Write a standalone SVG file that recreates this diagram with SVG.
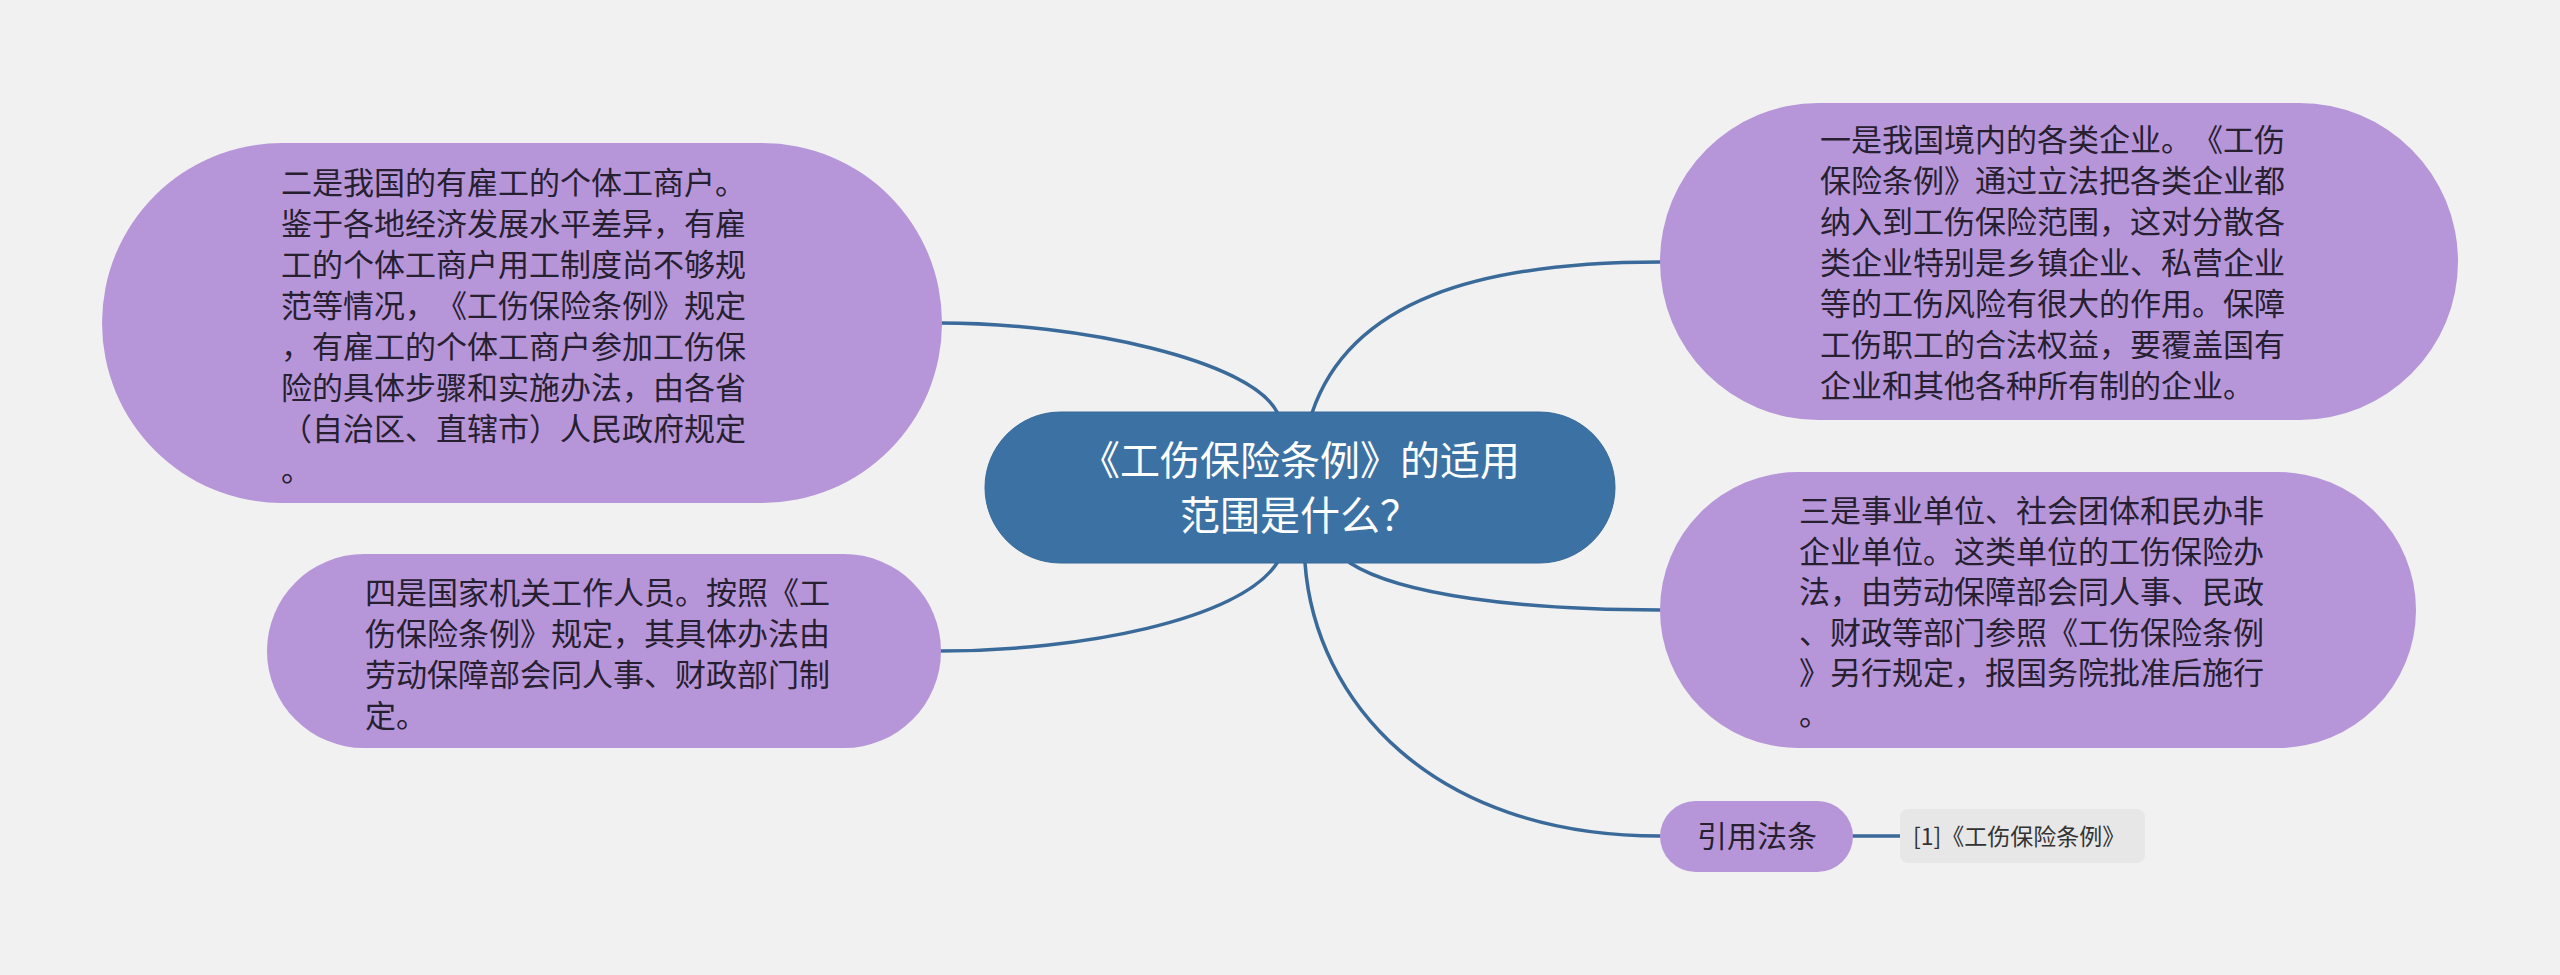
<svg xmlns="http://www.w3.org/2000/svg" width="2560" height="975" viewBox="0 0 2560 975">
<style>
text{font-feature-settings:"chws" 0,"halt" 0,"palt" 0;text-spacing-trim:space-all;font-kerning:none}
.bg{fill:#f1f1f1}
.pill{fill:#b696d8}
.root{fill:#3c72a3;stroke:#36699a;stroke-width:1}
.t{font-family:"Noto Sans CJK SC","Noto Sans",sans-serif;font-size:31px;fill:#262030}
.rt{font-family:"Noto Sans CJK SC","Noto Sans",sans-serif;font-size:40px;fill:#ffffff;text-anchor:middle}
.lk{fill:none;stroke:#3a6a9a;stroke-width:3.5;stroke-linecap:round}
.ref{fill:#e7e7e7}
.rtx{font-family:"Noto Sans CJK SC","Noto Sans",sans-serif;font-size:23px;fill:#333333}
</style>
<rect class="bg" x="0" y="0" width="2560" height="975"/>
<g id="connectors">
<path class="lk" d="M1277 412 C1250 360,1080 323,940 323"/>
<path class="lk" d="M1312 413 C1350 300,1480 262,1660 262"/>
<path class="lk" d="M1277 563 C1240 620,1080 651,940 651"/>
<path class="lk" d="M1350 563 C1400 595,1520 610,1660 610"/>
<path class="lk" d="M1305 563 C1315 700,1430 836,1660 836"/>
<path class="lk" d="M1853 836 L1900 836"/>
</g>
<g id="root">
<rect class="root" x="985" y="412" width="630" height="151" rx="75.5" ry="75.5"/>
<text class="rt" x="1300" y="475">《工伤保险条例》的适用</text>
<text class="rt" x="1300" y="530">范围是什么？</text>
</g>
<g id="node1">
<rect class="pill" x="102" y="143" width="840" height="360" rx="180" ry="180"/>
<text class="t" x="281" y="194">二是我国的有雇工的个体工商户。</text>
<text class="t" x="281" y="235">鉴于各地经济发展水平差异，有雇</text>
<text class="t" x="281" y="276">工的个体工商户用工制度尚不够规</text>
<text class="t" x="281" y="317">范等情况，《工伤保险条例》规定</text>
<text class="t" x="281" y="358">，有雇工的个体工商户参加工伤保</text>
<text class="t" x="281" y="399">险的具体步骤和实施办法，由各省</text>
<text class="t" x="281" y="440">（自治区、直辖市）人民政府规定</text>
<text class="t" x="281" y="481">。</text>
</g>
<g id="node4">
<rect class="pill" x="267" y="554" width="674" height="194" rx="97" ry="97"/>
<text class="t" x="365" y="604">四是国家机关工作人员。按照《工</text>
<text class="t" x="365" y="645">伤保险条例》规定，其具体办法由</text>
<text class="t" x="365" y="686">劳动保障部会同人事、财政部门制</text>
<text class="t" x="365" y="727">定。</text>
</g>
<g id="node2">
<rect class="pill" x="1660" y="103" width="798" height="317" rx="158.5" ry="158.5"/>
<text class="t" x="1820" y="151">一是我国境内的各类企业。《工伤</text>
<text class="t" x="1820" y="192">保险条例》通过立法把各类企业都</text>
<text class="t" x="1820" y="233">纳入到工伤保险范围，这对分散各</text>
<text class="t" x="1820" y="274">类企业特别是乡镇企业、私营企业</text>
<text class="t" x="1820" y="315">等的工伤风险有很大的作用。保障</text>
<text class="t" x="1820" y="356">工伤职工的合法权益，要覆盖国有</text>
<text class="t" x="1820" y="397">企业和其他各种所有制的企业。</text>
</g>
<g id="node3">
<rect class="pill" x="1660" y="472" width="756" height="276" rx="138" ry="138"/>
<text class="t" x="1799" y="522">三是事业单位、社会团体和民办非</text>
<text class="t" x="1799" y="563">企业单位。这类单位的工伤保险办</text>
<text class="t" x="1799" y="603">法，由劳动保障部会同人事、民政</text>
<text class="t" x="1799" y="644">、财政等部门参照《工伤保险条例</text>
<text class="t" x="1799" y="684">》另行规定，报国务院批准后施行</text>
<text class="t" x="1799" y="725">。</text>
</g>
<g id="node5">
<rect class="pill" x="1660" y="801" width="193" height="71" rx="35.5" ry="35.5"/>
<text class="t" x="1757" y="847" text-anchor="middle" style="font-size:30px">引用法条</text>
</g>
<g id="ref1">
<rect class="ref" x="1900" y="809" width="245" height="54" rx="8" ry="8"/>
<text class="rtx" x="1913" y="845">[1]《工伤保险条例》</text>
</g>
</svg>
